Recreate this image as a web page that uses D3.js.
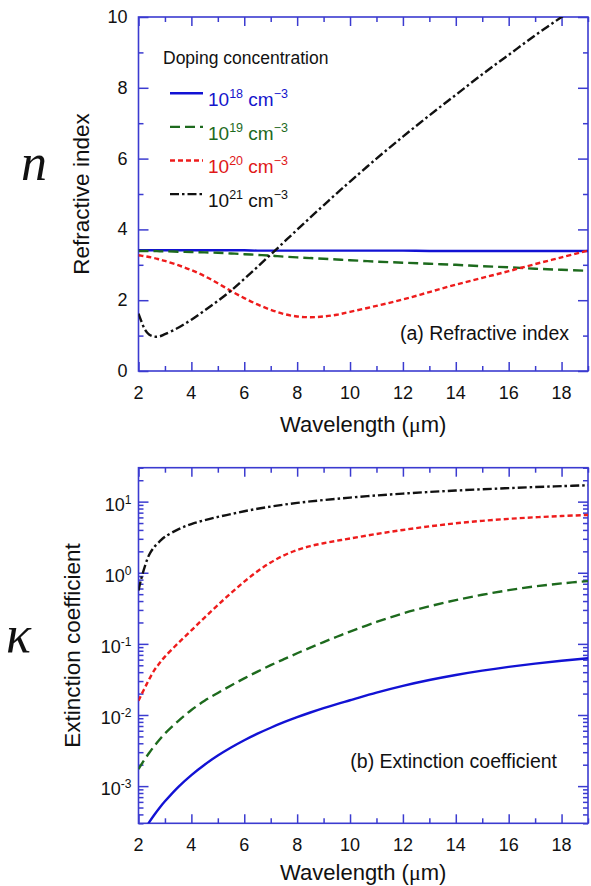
<!DOCTYPE html>
<html><head><meta charset="utf-8">
<script src="https://cdn.jsdelivr.net/npm/d3@7"></script>
<style>body{margin:0;background:#fff}svg{display:block}</style>
</head><body><svg id="c" width="591" height="886"></svg>
<script>
// ---------------- DATA ----------------
const wavelength = [2,2.1,2.25,2.4,2.6,2.8,3,3.5,4,4.5,5,5.5,6,6.5,7,7.5,8,8.5,9,9.5,10,11,12,13,14,15,16,17,18,19];
// refractive index n
const nDoping18 = [3.41,3.41,3.41,3.41,3.41,3.41,3.41,3.41,3.41,3.41,3.41,3.41,3.41,3.40,3.40,3.40,3.40,3.40,3.40,3.40,3.40,3.40,3.40,3.39,3.39,3.39,3.39,3.39,3.39,3.39];
const nDoping19 = [3.39,3.39,3.39,3.39,3.39,3.38,3.38,3.37,3.36,3.35,3.34,3.32,3.30,3.28,3.26,3.23,3.21,3.19,3.17,3.15,3.13,3.09,3.06,3.03,3.00,2.96,2.93,2.89,2.86,2.83];
const nDoping20 = [3.27,3.26,3.24,3.22,3.19,3.15,3.11,2.99,2.85,2.68,2.48,2.26,2.06,1.88,1.73,1.61,1.54,1.52,1.54,1.59,1.67,1.84,2.02,2.23,2.44,2.63,2.82,3.02,3.21,3.40];
const nDoping21 = [1.62,1.42,1.16,1.03,0.97,0.98,1.04,1.22,1.45,1.71,1.98,2.27,2.60,2.94,3.29,3.64,3.99,4.34,4.68,5.02,5.35,6.00,6.62,7.22,7.80,8.38,8.93,9.48,10.00,10.52];
// extinction coefficient kappa
const kDoping18 = [1.73e-4,2.01e-4,2.52e-4,3.09e-4,3.96e-4,4.97e-4,6.11e-4,9.7e-4,1.43e-3,2.0e-3,2.69e-3,3.49e-3,4.42e-3,5.46e-3,6.62e-3,7.91e-3,9.31e-3,0.01084,0.01249,0.01426,0.01612,0.02065,0.0257,0.03105,0.03656,0.04207,0.04753,0.05284,0.05794,0.06281];
const kDoping19 = [1.738e-3,1.995e-3,2.427e-3,2.917e-3,3.673e-3,4.519e-3,5.495e-3,8.222e-3,0.01175,0.01585,0.02042,0.026,0.03273,0.04074,0.05012,0.06095,0.07379,0.08872,0.1059,0.1259,0.1489,0.2032,0.2679,0.3373,0.4121,0.4898,0.5689,0.6427,0.7079,0.7638];
const kDoping20 = [0.01585,0.01905,0.02455,0.03162,0.04266,0.0537,0.06607,0.1023,0.1549,0.2344,0.3508,0.5188,0.7499,1.047,1.396,1.758,2.089,2.371,2.600,2.818,3.034,3.508,3.999,4.487,4.955,5.370,5.728,6.026,6.281,6.486];
const kDoping21 = [0.5623,0.8128,1.259,1.778,2.317,2.754,3.199,4.074,4.842,5.495,6.095,6.683,7.328,7.943,8.511,9.078,9.594,10.07,10.52,10.96,11.40,12.22,12.97,13.68,14.32,14.93,15.49,16.03,16.52,16.98];
// ticks / labels
const xTicks = [2,4,6,8,10,12,14,16,18];
const xMinorTicks = [3,5,7,9,11,13,15,17,19];
const nTicks = [0,2,4,6,8,10];
const nMinorTicks = [1,3,5,7,9];
const kTicks = [1e-3,1e-2,1e-1,1,10];
const kExponents = ["-3","-2","-1","0","1"];
const legendExponents = ["18","19","20","21"];

// ---------------- STYLE ----------------
const FONT = "'Liberation Sans', Arial, sans-serif";
const AX = "#3b3bd0";
const styles = [
  {color:"#1212d4", text:"#1515cc", dash:null},
  {color:"#1d6a1d", text:"#1d6a1d", dash:"10,5"},
  {color:"#ee1c1c", text:"#e01818", dash:"5,3"},
  {color:"#111111", text:"#111111", dash:"9,3,2.5,3"}
];
const nSeries = [nDoping18,nDoping19,nDoping20,nDoping21];
const kSeries = [kDoping18,kDoping19,kDoping20,kDoping21];

const L = 138.5, R = 588;
const T1 = 17, B1 = 371, T2 = 467.7, B2 = 823.3;

const svg = d3.select("#c");
const x = d3.scaleLinear().domain([2,19]).range([L,R]);
const yN = d3.scaleLinear().domain([0,10]).range([B1,T1]);
const yK = d3.scaleLog().domain([3e-4,30]).range([B2,T2]);

// minor log ticks
const kMinor = [];
for (let e=-4; e<=1; e++) for (let m=2; m<=9; m++) { const v=m*Math.pow(10,e); if (v>=3e-4 && v<=30) kMinor.push(v); }

function styleAxis(g){
  g.select(".domain").remove();
  g.selectAll(".tick line").attr("stroke",AX).attr("stroke-width",1.5);
  g.selectAll(".tick text").remove();
}

function framePlot(T,B,y,yMajor,yMinor,id){
  svg.append("defs").append("clipPath").attr("id",id).append("rect")
    .attr("x",L).attr("y",T).attr("width",R-L).attr("height",B-T);
  const g = svg.append("g");
  g.append("g").attr("transform",`translate(0,${B})`).call(d3.axisBottom(x).tickValues(xTicks).tickSize(-9)).call(styleAxis);
  g.append("g").attr("transform",`translate(0,${B})`).call(d3.axisBottom(x).tickValues(xMinorTicks).tickSize(-5)).call(styleAxis);
  g.append("g").attr("transform",`translate(0,${T})`).call(d3.axisTop(x).tickValues(xTicks).tickSize(-9)).call(styleAxis);
  g.append("g").attr("transform",`translate(0,${T})`).call(d3.axisTop(x).tickValues(xMinorTicks).tickSize(-5)).call(styleAxis);
  g.append("g").attr("transform",`translate(${L},0)`).call(d3.axisLeft(y).tickValues(yMajor).tickSize(-10)).call(styleAxis);
  g.append("g").attr("transform",`translate(${L},0)`).call(d3.axisLeft(y).tickValues(yMinor).tickSize(-5)).call(styleAxis);
  g.append("g").attr("transform",`translate(${R},0)`).call(d3.axisRight(y).tickValues(yMajor).tickSize(-10)).call(styleAxis);
  g.append("g").attr("transform",`translate(${R},0)`).call(d3.axisRight(y).tickValues(yMinor).tickSize(-5)).call(styleAxis);
  g.append("rect").attr("x",L).attr("y",T).attr("width",R-L).attr("height",B-T)
    .attr("fill","none").attr("stroke",AX).attr("stroke-width",1.6);
  g.selectAll(null).data(xTicks).enter().append("text")
    .attr("x",d=>x(d)).attr("y",B+28).attr("text-anchor","middle")
    .attr("font-family",FONT).attr("font-size",18).attr("fill","#111").text(d=>d);
}

framePlot(T1,B1,yN,nTicks,nMinorTicks,"clip1");
framePlot(T2,B2,yK,kTicks,kMinor,"clip2");

svg.selectAll(null).data(nTicks).enter().append("text")
  .attr("x",L-11).attr("y",d=>yN(d)+6).attr("text-anchor","end")
  .attr("font-family",FONT).attr("font-size",18).attr("fill","#111").text(d=>d);
const kl = svg.selectAll(null).data(kTicks).enter().append("text")
  .attr("x",L-7).attr("y",d=>yK(d)+9).attr("text-anchor","end")
  .attr("font-family",FONT).attr("font-size",18).attr("fill","#111");
kl.append("tspan").text("10");
kl.append("tspan").attr("font-size",12).attr("dy",-7).text((d,i)=>kExponents[i]);

// lines
const curve = d3.curveCatmullRom.alpha(0.5);
const lineN = d3.line().x((d,i)=>x(wavelength[i])).y(d=>yN(d)).curve(curve);
const lineK = d3.line().x((d,i)=>x(wavelength[i])).y(d=>yK(d)).curve(curve);
const g1 = svg.append("g").attr("clip-path","url(#clip1)");
const g2 = svg.append("g").attr("clip-path","url(#clip2)");
nSeries.forEach((s,i)=>{
  g1.append("path").attr("d",lineN(s)).attr("fill","none").attr("stroke",styles[i].color)
    .attr("stroke-width",2.4).attr("stroke-dasharray",styles[i].dash);
});
kSeries.forEach((s,i)=>{
  g2.append("path").attr("d",lineK(s)).attr("fill","none").attr("stroke",styles[i].color)
    .attr("stroke-width",2.4).attr("stroke-dasharray",styles[i].dash);
});

// legend
svg.append("text").attr("x",163).attr("y",64).attr("font-family",FONT).attr("font-size",17.5)
  .attr("fill","#111").text("Doping concentration");
legendExponents.forEach((e,i)=>{
  const yl = 93.3 + i*33.6;
  svg.append("line").attr("x1",170).attr("x2",203).attr("y1",yl).attr("y2",yl)
    .attr("stroke",styles[i].color).attr("stroke-width",2.4).attr("stroke-dasharray",styles[i].dash);
  const t = svg.append("text").attr("x",208).attr("y",yl+12.7).attr("font-family",FONT)
    .attr("font-size",19).attr("fill",styles[i].text);
  t.append("tspan").text("10");
  t.append("tspan").attr("font-size",12.5).attr("dy",-8).text(e);
  t.append("tspan").attr("dy",8).text(" cm");
  t.append("tspan").attr("font-size",12.5).attr("dy",-8).text("\u22123");
});

// panel labels
svg.append("text").attr("x",569).attr("y",340).attr("text-anchor","end").attr("font-family",FONT)
  .attr("font-size",19.5).attr("fill","#111").text("(a) Refractive index");
svg.append("text").attr("x",557).attr("y",768).attr("text-anchor","end").attr("font-family",FONT)
  .attr("font-size",19.5).attr("fill","#111").text("(b) Extinction coefficient");

// axis titles
[431.5,880].forEach(yy=>{
  const t = svg.append("text").attr("x",(L+R)/2).attr("y",yy).attr("text-anchor","middle")
    .attr("font-family",FONT).attr("font-size",22).attr("fill","#111");
  t.append("tspan").text("Wavelength (");
  t.append("tspan").attr("font-family","'Liberation Serif', serif").text("\u03bc");
  t.append("tspan").text("m)");
});
svg.append("text").attr("transform",`translate(89,${(T1+B1)/2}) rotate(-90)`).attr("text-anchor","middle")
  .attr("font-family",FONT).attr("font-size",22.5).attr("fill","#111").text("Refractive index");
svg.append("text").attr("transform",`translate(80,${(T2+B2)/2}) rotate(-90)`).attr("text-anchor","middle")
  .attr("font-family",FONT).attr("font-size",22.5).attr("fill","#111").text("Extinction coefficient");

// big symbols
svg.append("text").attr("x",21).attr("y",180).attr("font-family","'Liberation Serif', 'Times New Roman', serif")
  .attr("font-style","italic").attr("font-size",52).attr("fill","#111").text("n");
svg.append("text").attr("x",6).attr("y",652).attr("font-family","'Liberation Serif', 'Times New Roman', serif")
  .attr("font-style","italic").attr("font-size",52).attr("fill","#111").text("\u03ba");
</script></body></html>
